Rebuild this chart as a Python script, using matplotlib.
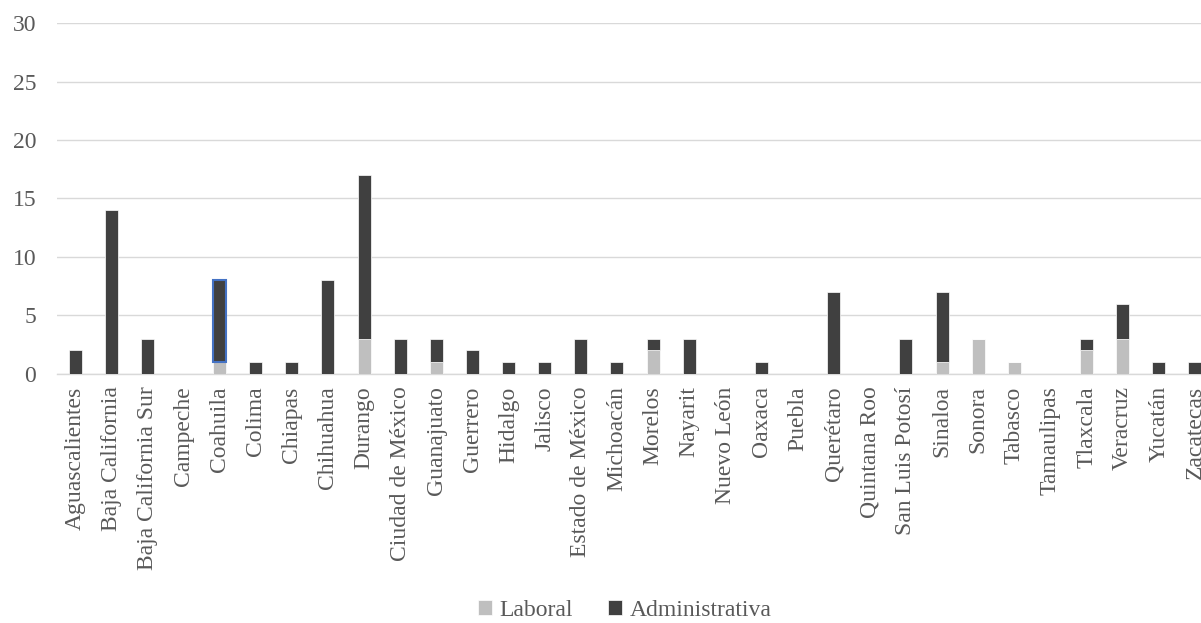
import matplotlib.pyplot as plt
import numpy as np

estados = ['Aguascalientes', 'Baja California', 'Baja California Sur', 'Campeche',
           'Coahuila', 'Colima', 'Chiapas', 'Chihuahua', 'Durango', 'Ciudad de México',
           'Guanajuato', 'Guerrero', 'Hidalgo', 'Jalisco', 'Estado de México',
           'Michoacán', 'Morelos', 'Nayarit', 'Nuevo León', 'Oaxaca', 'Puebla',
           'Querétaro', 'Quintana Roo', 'San Luis Potosí', 'Sinaloa', 'Sonora',
           'Tabasco', 'Tamaulipas', 'Tlaxcala', 'Veracruz', 'Yucatán', 'Zacatecas']
laboral = [0, 0, 0, 0, 1, 0, 0, 0, 3, 0, 1, 0, 0, 0, 0, 0, 2, 0, 0, 0, 0,
           0, 0, 0, 1, 3, 1, 0, 2, 3, 0, 0]
administrativa = [2, 14, 3, 0, 7, 1, 1, 8, 14, 3, 2, 2, 1, 1, 3, 1, 1, 3, 0, 1, 0,
                  7, 0, 3, 6, 0, 0, 0, 1, 3, 1, 1]

plt.rcParams['font.family'] = 'Liberation Serif'
gris = '#595959'
fs = 17

fig = plt.figure(figsize=(12.01, 6.23), dpi=100)
ax = fig.add_axes([0.0475, 0.4, 0.9625, 0.563])

x = np.arange(len(estados))
ax.bar(x, laboral, width=0.36, color='#bfbfbf', edgecolor='white', linewidth=0.5,
       label='Laboral', zorder=3)
bars = ax.bar(x, administrativa, width=0.36, bottom=laboral, color='#404040',
              edgecolor='white', linewidth=0.5, label='Administrativa', zorder=3)
# segmento seleccionado en el original
bars[4].set_edgecolor('#4472c4')
bars[4].set_linewidth(1.5)

ax.set_xlim(-0.5, len(estados) - 0.5)
ax.set_ylim(0, 30)
ax.set_yticks(range(0, 31, 5))
ax.grid(axis='y', color='#d9d9d9', linewidth=1, zorder=0)
for s in ['top', 'right', 'left']:
    ax.spines[s].set_visible(False)
ax.spines['bottom'].set_color('#d9d9d9')
ax.spines['bottom'].set_linewidth(1)
ax.tick_params(length=0, colors=gris, labelsize=fs)
ax.tick_params(axis='y', pad=15)
ax.tick_params(axis='x', pad=9)
ax.set_xticks(x)
ax.set_xticklabels(estados, rotation=90)

fig.legend(loc='center', bbox_to_anchor=(0.52, 0.02), ncol=2, frameon=False,
           fontsize=fs, labelcolor=gris, handlelength=0.6, handleheight=0.6,
           handletextpad=0.3, columnspacing=1.5, borderpad=0)

fig.savefig('out.png', dpi=100)
